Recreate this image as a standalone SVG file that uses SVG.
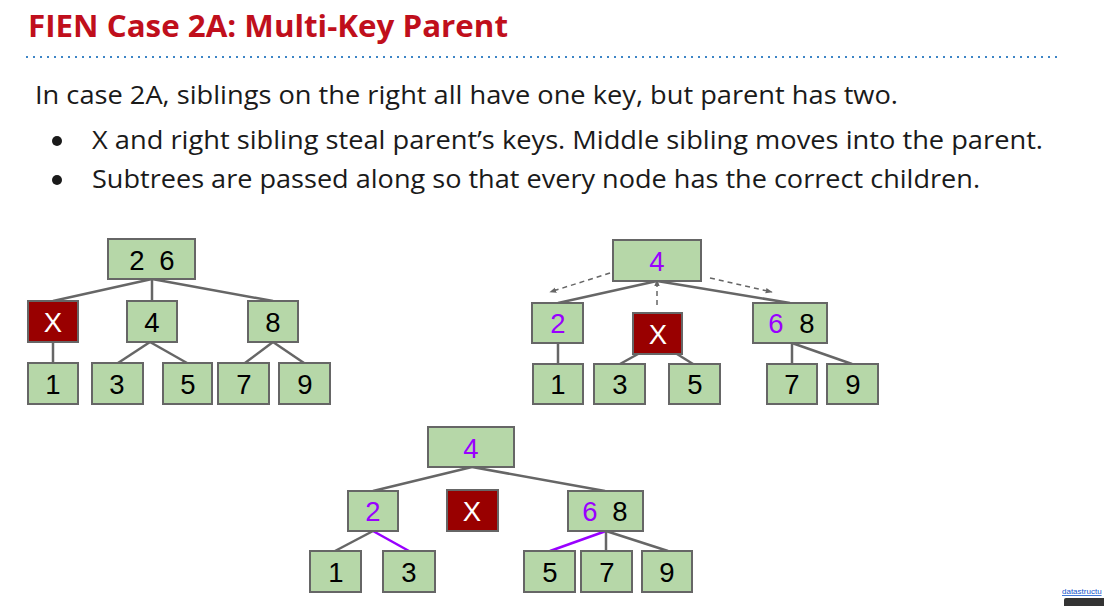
<svg xmlns="http://www.w3.org/2000/svg" width="1104" height="606" viewBox="0 0 1104 606">
<style>
.nd{fill:#b6d7a8;stroke:#666;stroke-width:2}
.xn{fill:#990000;stroke:#666;stroke-width:2}
.t{font-family:"Liberation Sans",Arial,sans-serif;font-size:27.5px;fill:#000;text-anchor:middle}
.w{fill:#fff}
.p{fill:#9900ff}
.e{stroke:#666;stroke-width:2.5;fill:none}
.ep{stroke:#9900ff;stroke-width:2.5;fill:none}
.d{stroke:#666;stroke-width:1.5;fill:none;stroke-dasharray:5,4}
.body{font-family:"Open Sans","Noto Sans",sans-serif;font-size:25px;fill:#1a1a1a}
</style>
<defs>
<marker id="ah" viewBox="0 0 10 10" refX="9" refY="5" markerWidth="7" markerHeight="7" orient="auto" markerUnits="userSpaceOnUse">
<path d="M0,1 L10,5 L0,9 z" fill="#666"/>
</marker>
</defs>
<rect width="1104" height="606" fill="#fff"/>
<text x="28" y="37" font-family="Open Sans,'Noto Sans',sans-serif" font-weight="bold" font-size="30" fill="#c00f1c" textLength="480" lengthAdjust="spacingAndGlyphs">FIEN Case 2A: Multi-Key Parent</text>
<line x1="26" y1="57" x2="1060" y2="57" stroke="#3d85c6" stroke-width="2" stroke-dasharray="2,5"/>
<text class="body" x="35" y="104" textLength="863" lengthAdjust="spacingAndGlyphs">In case 2A, siblings on the right all have one key, but parent has two.</text>
<circle cx="57" cy="141" r="5" fill="#1a1a1a"/>
<text class="body" x="92" y="149" textLength="951" lengthAdjust="spacingAndGlyphs">X and right sibling steal parent’s keys. Middle sibling moves into the parent.</text>
<circle cx="57" cy="180" r="5" fill="#1a1a1a"/>
<text class="body" x="92" y="188" textLength="888" lengthAdjust="spacingAndGlyphs">Subtrees are passed along so that every node has the correct children.</text>

<g id="connectors">
<!-- tree 1 -->
<line class="e" x1="152" y1="279" x2="53" y2="301"/>
<line class="e" x1="152" y1="279" x2="152" y2="301"/>
<line class="e" x1="152" y1="279" x2="273" y2="301"/>
<line class="e" x1="53" y1="342" x2="53" y2="363"/>
<line class="e" x1="150" y1="342" x2="118" y2="363"/>
<line class="e" x1="150" y1="342" x2="187" y2="363"/>
<line class="e" x1="273" y1="342" x2="245" y2="363"/>
<line class="e" x1="273" y1="342" x2="304" y2="363"/>
<!-- tree 2 -->
<line class="e" x1="657" y1="281" x2="558" y2="303"/>
<line class="e" x1="657" y1="281" x2="790" y2="303"/>
<line class="e" x1="558" y1="343" x2="558" y2="364"/>
<line class="e" x1="638" y1="354" x2="620" y2="364"/>
<line class="e" x1="677" y1="354" x2="693" y2="364"/>
<line class="e" x1="792" y1="343" x2="792" y2="364"/>
<line class="e" x1="792" y1="343" x2="852" y2="364"/>
<line class="d" x1="610" y1="273" x2="550" y2="292" marker-end="url(#ah)"/>
<line class="d" x1="657" y1="305" x2="657" y2="280" marker-end="url(#ah)"/>
<line class="d" x1="710" y1="278" x2="772" y2="292" marker-end="url(#ah)"/>
<!-- tree 3 -->
<line class="e" x1="472" y1="467" x2="373" y2="491"/>
<line class="e" x1="472" y1="467" x2="605" y2="491"/>
<line class="e" x1="373" y1="531" x2="335" y2="551"/>
<line class="ep" x1="373" y1="531" x2="409" y2="551"/>
<line class="ep" x1="606" y1="531" x2="550" y2="551"/>
<line class="e" x1="606" y1="531" x2="606" y2="551"/>
<line class="e" x1="606" y1="531" x2="668" y2="551"/>
</g>

<!-- tree 1 nodes -->
<g id="t1-root"><rect class="nd" x="108" y="239" width="87" height="40"/><text class="t" y="269.5"><tspan x="137">2</tspan><tspan x="167">6</tspan></text></g>
<g id="t1-x"><rect class="xn" x="28" y="301" width="50" height="41"/><text class="t w" x="53" y="332">X</text></g>
<g id="t1-4"><rect class="nd" x="127" y="301" width="50" height="41"/><text class="t" x="152" y="332">4</text></g>
<g id="t1-8"><rect class="nd" x="248" y="301" width="50" height="41"/><text class="t" x="273" y="332">8</text></g>
<g id="t1-1"><rect class="nd" x="28" y="363" width="50" height="41"/><text class="t" x="53" y="394">1</text></g>
<g id="t1-3"><rect class="nd" x="92" y="363" width="51" height="41"/><text class="t" x="117" y="394">3</text></g>
<g id="t1-5"><rect class="nd" x="163" y="363" width="49" height="41"/><text class="t" x="188" y="394">5</text></g>
<g id="t1-7"><rect class="nd" x="218" y="363" width="51" height="41"/><text class="t" x="244" y="394">7</text></g>
<g id="t1-9"><rect class="nd" x="279" y="363" width="51" height="41"/><text class="t" x="305" y="394">9</text></g>

<!-- tree 2 nodes -->
<g id="t2-root"><rect class="nd" x="613" y="240" width="88" height="41"/><text class="t p" x="657" y="271">4</text></g>
<g id="t2-2"><rect class="nd" x="532" y="303" width="51" height="40"/><text class="t p" x="558" y="333">2</text></g>
<g id="t2-x"><rect class="xn" x="633" y="313" width="49" height="41"/><text class="t w" x="658" y="344">X</text></g>
<g id="t2-68"><rect class="nd" x="753" y="303" width="74" height="40"/><text class="t" y="333"><tspan class="p" x="776">6</tspan><tspan x="807">8</tspan></text></g>
<g id="t2-1"><rect class="nd" x="533" y="364" width="50" height="40"/><text class="t" x="558" y="394">1</text></g>
<g id="t2-3"><rect class="nd" x="594" y="364" width="51" height="40"/><text class="t" x="620" y="394">3</text></g>
<g id="t2-5"><rect class="nd" x="669" y="364" width="51" height="40"/><text class="t" x="695" y="394">5</text></g>
<g id="t2-7"><rect class="nd" x="767" y="364" width="50" height="40"/><text class="t" x="792" y="394">7</text></g>
<g id="t2-9"><rect class="nd" x="827" y="364" width="51" height="40"/><text class="t" x="853" y="394">9</text></g>

<!-- tree 3 nodes -->
<g id="t3-root"><rect class="nd" x="428" y="427" width="86" height="40"/><text class="t p" x="471" y="457.5">4</text></g>
<g id="t3-2"><rect class="nd" x="348" y="491" width="50" height="40"/><text class="t p" x="373" y="521">2</text></g>
<g id="t3-x"><rect class="xn" x="447" y="490" width="51" height="41"/><text class="t w" x="472" y="521">X</text></g>
<g id="t3-68"><rect class="nd" x="568" y="491" width="75" height="40"/><text class="t" y="521"><tspan class="p" x="590">6</tspan><tspan x="620">8</tspan></text></g>
<g id="t3-1"><rect class="nd" x="310" y="551" width="51" height="41"/><text class="t" x="336" y="582">1</text></g>
<g id="t3-3"><rect class="nd" x="383" y="551" width="52" height="41"/><text class="t" x="409" y="582">3</text></g>
<g id="t3-5"><rect class="nd" x="524" y="551" width="51" height="41"/><text class="t" x="550" y="582">5</text></g>
<g id="t3-7"><rect class="nd" x="581" y="551" width="51" height="41"/><text class="t" x="607" y="582">7</text></g>
<g id="t3-9"><rect class="nd" x="642" y="551" width="50" height="41"/><text class="t" x="667" y="582">9</text></g>

<g id="footer">
<text x="1062" y="594" font-family="'Liberation Sans',Arial,sans-serif" font-size="8" fill="#1155cc" text-decoration="underline">datastructu</text>
<rect x="1064" y="598" width="42" height="10" rx="2" fill="#333"/>
</g>
</svg>
